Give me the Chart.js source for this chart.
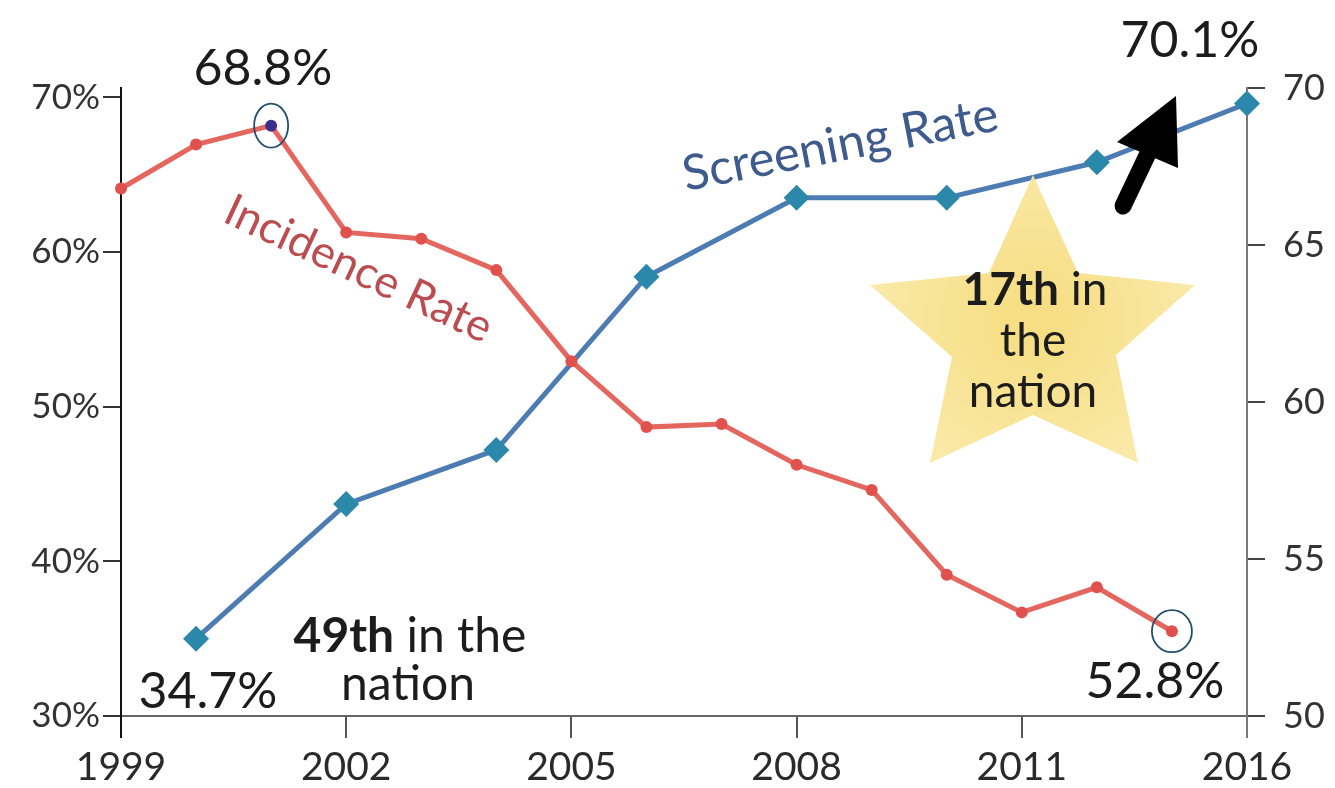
<!DOCTYPE html>
<html>
<head>
<meta charset="utf-8">
<script src="https://cdn.jsdelivr.net/npm/chart.js@4.4.0/dist/chart.umd.min.js"></script>
<style>
  html, body { margin: 0; padding: 0; background: #fff; }
  #wrap { width: 1335px; height: 788px; }
</style>
</head>
<body>
<div id="wrap"><canvas id="chart" width="1335" height="788"></canvas></div>
<script>
// values
const incidenceYears = [1999, 2000, 2001, 2002, 2003, 2004, 2005, 2006, 2007, 2008, 2009, 2010, 2011, 2012, 2013];
const incidenceValues = [66.8, 68.2, 68.8, 65.4, 65.2, 64.2, 61.3, 59.2, 59.3, 58.0, 57.2, 54.5, 53.3, 54.1, 52.7];
const screeningYears = [2000, 2002, 2004, 2006, 2008, 2010, 2012, 2014];
const screeningValues = [35.0, 43.7, 47.2, 58.4, 63.5, 63.5, 65.8, 69.6];

const leftTicks = [30, 40, 50, 60, 70];
const rightTicks = [50, 55, 60, 65, 70];
const xTickValues = [1999, 2002, 2005, 2008, 2011, 2014];
const xTickLabels = ['1999', '2002', '2005', '2008', '2011', '2016'];

const FONT = 'Lato';
const peakIndex = incidenceValues.indexOf(Math.max(...incidenceValues));
const lastIndex = incidenceValues.length - 1;

function richLine(ctx, parts, cx, y, size) {
    // parts: [[text, bold], ...] centred on cx
    let total = 0;
    parts.forEach(p => {
        ctx.font = (p[1] ? 'bold ' : '') + size + 'px ' + FONT;
        total += ctx.measureText(p[0]).width;
    });
    let x = cx - total / 2;
    ctx.textAlign = 'left';
    parts.forEach(p => {
        ctx.font = (p[1] ? 'bold ' : '') + size + 'px ' + FONT;
        ctx.fillText(p[0], x, y);
        x += ctx.measureText(p[0]).width;
    });
}

const annotations = {
    id: 'annotations',
    afterDatasetsDraw(chart) {
        const ctx = chart.ctx;
        const x = chart.scales.x;
        const yR = chart.scales.yRight;
        ctx.save();

        // star
        const star = [[1033, 175], [1078, 273], [1195, 285], [1116, 355], [1138, 463],
                      [1033, 415], [930, 463], [952, 357], [870, 285], [989, 273]];
        const g = ctx.createRadialGradient(1033, 320, 20, 1033, 320, 170);
        g.addColorStop(0, 'rgba(246, 220, 125, 0.95)');
        g.addColorStop(1, 'rgba(250, 233, 165, 0.95)');
        ctx.fillStyle = g;
        ctx.beginPath();
        star.forEach((p, i) => i ? ctx.lineTo(p[0], p[1]) : ctx.moveTo(p[0], p[1]));
        ctx.closePath();
        ctx.fill();

        ctx.fillStyle = '#1c1c1c';
        ctx.textBaseline = 'alphabetic';
        richLine(ctx, [['17th', true], [' in', false]], 1035, 305, 46);
        richLine(ctx, [['the', false]], 1033, 356, 46);
        richLine(ctx, [['nation', false]], 1033, 407, 46);

        // 49th in the nation
        richLine(ctx, [['49th', true], [' in the', false]], 410, 652, 48);
        richLine(ctx, [['nation', false]], 408, 700, 48);

        // value labels
        ctx.font = '50px ' + FONT;
        ctx.textAlign = 'center';
        ctx.fillText('68.8%', 263, 85);
        ctx.fillText('34.7%', 208, 708);
        ctx.fillText('52.8%', 1155, 698);
        ctx.fillText('70.1%', 1190, 57);

        // circles round the peak and the last point
        ctx.strokeStyle = '#24506e';
        ctx.lineWidth = 1.8;
        [[peakIndex, 17, 22], [lastIndex, 20, 21]].forEach(c => {
            const px = x.getPixelForValue(incidenceYears[c[0]]);
            const py = yR.getPixelForValue(incidenceValues[c[0]]);
            ctx.beginPath();
            ctx.ellipse(px, py, c[1], c[2], 0, 0, Math.PI * 2);
            ctx.stroke();
        });

        // series names
        ctx.textAlign = 'left';
        ctx.save();
        ctx.translate(221, 221);
        ctx.rotate(25 * Math.PI / 180);
        ctx.fillStyle = '#bb4d51';
        ctx.font = '45px ' + FONT;
        ctx.fillText('Incidence Rate', 0, 0);
        ctx.restore();

        ctx.save();
        ctx.translate(686, 191);
        ctx.rotate(-11 * Math.PI / 180);
        ctx.fillStyle = '#3d5b8c';
        ctx.font = '49px ' + FONT;
        ctx.fillText('Screening Rate', 0, 0);
        ctx.restore();

        // arrow
        ctx.strokeStyle = '#000';
        ctx.lineWidth = 17;
        ctx.lineCap = 'round';
        ctx.beginPath();
        ctx.moveTo(1123, 206);
        ctx.lineTo(1152, 145);
        ctx.stroke();
        ctx.fillStyle = '#000';
        ctx.beginPath();
        ctx.moveTo(1176, 96);
        ctx.lineTo(1178, 168);
        ctx.lineTo(1117, 142);
        ctx.closePath();
        ctx.fill();

        ctx.restore();
    }
};

new Chart(document.getElementById('chart'), {
    type: 'line',
    data: {
        datasets: [{
            label: 'Incidence Rate',
            data: incidenceYears.map((yr, i) => ({ x: yr, y: incidenceValues[i] })),
            yAxisID: 'yRight',
            borderColor: '#e4675f',
            borderWidth: 5,
            pointRadius: 6,
            pointBorderWidth: 0,
            pointBackgroundColor: c => c.dataIndex === peakIndex ? '#3e2f8e' : '#e0514d',
            tension: 0,
            clip: false
        }, {
            label: 'Screening Rate',
            data: screeningYears.map((yr, i) => ({ x: yr, y: screeningValues[i] })),
            yAxisID: 'y',
            borderColor: '#4c7cb2',
            borderWidth: 5,
            pointStyle: 'rectRot',
            pointRadius: 13,
            pointBorderWidth: 0,
            pointBackgroundColor: '#2b88ab',
            tension: 0,
            clip: false
        }]
    },
    options: {
        responsive: false,
        animation: false,
        layout: { padding: { top: 88, left: 0, right: 0, bottom: 0 } },
        plugins: { legend: { display: false }, tooltip: { enabled: false } },
        scales: {
            x: {
                type: 'linear',
                min: 1999,
                max: 2014,
                afterBuildTicks: s => { s.ticks = xTickValues.map(v => ({ value: v })); },
                afterFit: s => { s.height = 72; },
                ticks: {
                    callback: (v, i) => xTickLabels[i],
                    font: { family: FONT, size: 39 },
                    color: '#2a2a2a',
                    padding: 6,
                    maxRotation: 0
                },
                grid: {
                    drawOnChartArea: false,
                    tickLength: 22,
                    lineWidth: 2,
                    color: c => c.index === 0 ? '#111' : (c.index === xTickValues.length - 1 ? '#777' : '#555')
                },
                border: { display: true, color: '#666', width: 2 }
            },
            y: {
                position: 'left',
                min: 30,
                max: 70.6,
                afterBuildTicks: s => { s.ticks = leftTicks.map(v => ({ value: v })); },
                afterFit: s => { s.width = 121; },
                ticks: {
                    callback: v => v + '%',
                    font: { family: FONT, size: 35 },
                    color: '#333',
                    padding: 3
                },
                grid: { drawOnChartArea: false, tickLength: 18, lineWidth: 2, color: '#333' },
                border: { display: true, color: '#111', width: 2 }
            },
            yRight: {
                position: 'right',
                min: 50,
                max: 70,
                afterBuildTicks: s => { s.ticks = rightTicks.map(v => ({ value: v })); },
                afterFit: s => { s.width = 88; },
                ticks: {
                    font: { family: FONT, size: 36 },
                    color: '#333',
                    padding: 18
                },
                grid: { drawOnChartArea: false, tickLength: 18, lineWidth: 2, color: '#444' },
                border: { display: true, color: '#777', width: 2 }
            }
        }
    },
    plugins: [annotations]
});
</script>
</body>
</html>
